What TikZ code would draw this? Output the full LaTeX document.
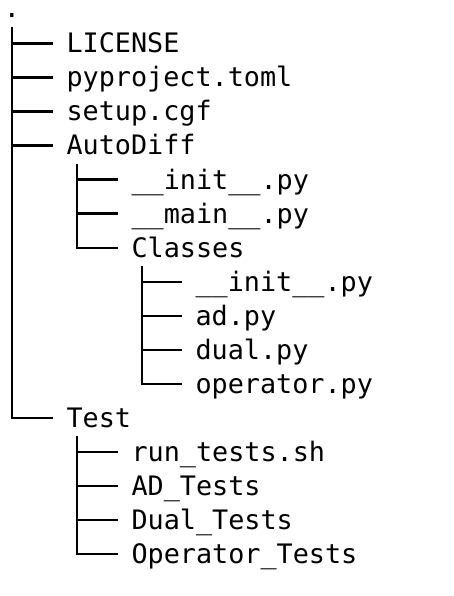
\documentclass[tikz,border=0pt]{standalone}
\usepackage{fontspec}
\usepackage{tikz}
\newfontfamily\treefont{DejaVu Sans Mono}
\tikzset{
  entry/.style={anchor=base west, inner sep=0pt, outer xsep=14pt, outer ysep=0pt, text height=19pt, text depth=0pt, font=\treefont\fontsize{26.8}{30}\selectfont},
  rootdot/.style={anchor=base, inner sep=0pt, font=\treefont\fontsize{26.8}{30}\selectfont},
  branch/.style={line width=2.3pt}
}

\begin{document}
\begin{tikzpicture}[x=1pt,y=-1pt]
\useasboundingbox (0,0) rectangle (454,596);

\node (root) at (12,17.3)[rootdot]{.};
\coordinate (rootstem) at ([yshift=-10pt]root.base);

\node (license) at (52.5,52.9)[entry]{LICENSE};
\node (pyproject) at (52.5,86.9)[entry]{pyproject.toml};
\node (setup) at (52.5,121.0)[entry]{setup.cgf};
\node (autodiff) at (52.5,155.0)[entry]{AutoDiff};
\node (test) at (52.5,427.4)[entry]{Test};

\draw[branch] (rootstem) |- (license.west) (rootstem) |- (pyproject.west)
  (rootstem) |- (setup.west) (rootstem) |- (autodiff.west) (rootstem) |- (test.west);

\coordinate (autostem) at ([xshift=24.5pt,yshift=-9pt]autodiff.base west);

\node (adinit) at (117.5,189.1)[entry]{\_\_init\_\_.py};
\node (admain) at (117.5,223.1)[entry]{\_\_main\_\_.py};
\node (classes) at (117.5,257.2)[entry]{Classes};

\draw[branch] (autostem) |- (adinit.west) (autostem) |- (admain.west)
  (autostem) |- (classes.west);

\coordinate (classstem) at ([xshift=24.5pt,yshift=-9pt]classes.base west);

\node (clinit) at (181.5,291.2)[entry]{\_\_init\_\_.py};
\node (ad) at (181.5,325.3)[entry]{ad.py};
\node (dual) at (181.5,359.3)[entry]{dual.py};
\node (operator) at (181.5,393.4)[entry]{operator.py};

\draw[branch] (classstem) |- (clinit.west) (classstem) |- (ad.west)
  (classstem) |- (dual.west) (classstem) |- (operator.west);

\coordinate (teststem) at ([xshift=24.5pt,yshift=-9pt]test.base west);

\node (runtests) at (117.5,461.5)[entry]{run\_tests.sh};
\node (adtests) at (117.5,495.5)[entry]{AD\_Tests};
\node (dualtests) at (117.5,529.6)[entry]{Dual\_Tests};
\node (optests) at (117.5,563.6)[entry]{Operator\_Tests};

\draw[branch] (teststem) |- (runtests.west) (teststem) |- (adtests.west)
  (teststem) |- (dualtests.west) (teststem) |- (optests.west);
\end{tikzpicture}
\end{document}
